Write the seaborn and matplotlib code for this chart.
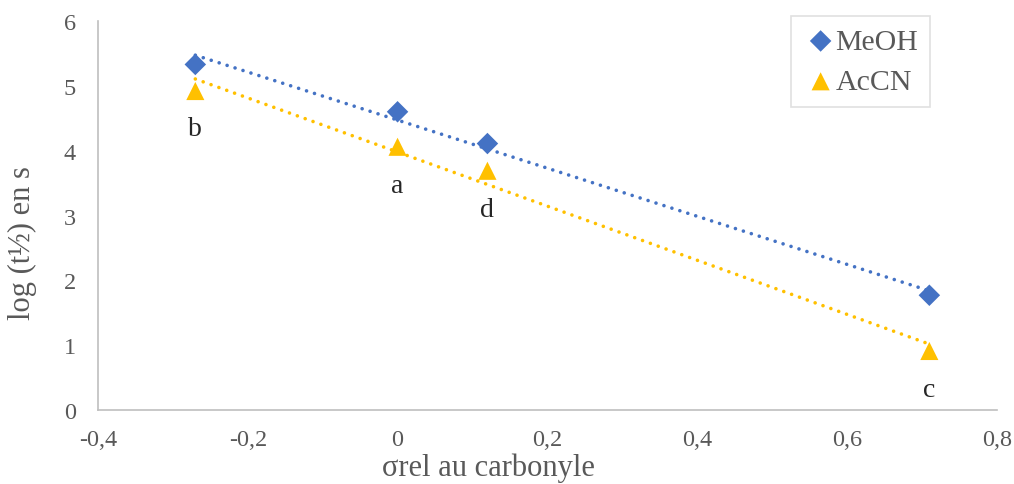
import numpy as np
import pandas as pd
import matplotlib
matplotlib.use("Agg")
import matplotlib.pyplot as plt
import seaborn as sns

# data
sigma = [-0.27, 0.0, 0.12, 0.71]
meoh = [5.33, 4.60, 4.11, 1.77]
accn = [4.92, 4.06, 3.69, 0.91]
point_labels = ["b", "a", "d", "c"]
label_y = [4.34, 3.47, 3.10, 0.31]

blue = "#4472C4"
gold = "#FFC000"
grey = "#595959"
axis_grey = "#BFBFBF"

sns.set_style("white")
plt.rcParams["font.family"] = ["Liberation Serif", "DejaVu Serif"]

fig = plt.figure(figsize=(10.14, 4.85), dpi=100)
ax = fig.add_axes([0.0966, 0.1526, 0.8864, 0.802])

sns.scatterplot(x=sigma, y=meoh, marker="D", s=120, color=blue, edgecolor="none",
                label="MeOH", ax=ax, zorder=3)
sns.scatterplot(x=sigma, y=accn, marker="^", s=170, color=gold, edgecolor="none",
                label="AcCN", ax=ax, zorder=3)

# linear trendlines (dotted)
for vals, col in [(meoh, blue), (accn, gold)]:
    sns.regplot(x=np.array(sigma), y=np.array(vals), ci=None, scatter=False,
                truncate=True, ax=ax,
                line_kws=dict(color=col, lw=2.6, ls=(0, (0.01, 2.3)),
                              dash_capstyle="round", zorder=4))

for xv, yv, t in zip(sigma, label_y, point_labels):
    ax.text(xv, yv, t, ha="center", va="center", fontsize=20, color="#262626")

xt = np.arange(-0.4, 0.81, 0.2)
ax.set_xlim(-0.4, 0.8)
ax.set_ylim(0, 6)
ax.set_xticks(xt)
ax.set_yticks(range(0, 7))
ax.set_xticklabels(["0" if abs(v) < 1e-9 else f"{v:.1f}".replace(".", ",") for v in xt])

for s in ["top", "right"]:
    ax.spines[s].set_visible(False)
for s in ["left", "bottom"]:
    ax.spines[s].set_color(axis_grey)
    ax.spines[s].set_linewidth(1.2)

ax.tick_params(axis="x", direction="inout", length=10, width=1.2, color=axis_grey,
               labelsize=17.5, labelcolor=grey, pad=9)
ax.tick_params(axis="y", direction="out", length=6, width=1.2, color=axis_grey,
               labelsize=17.5, labelcolor=grey, pad=10)

ax.set_xlabel("σrel au carbonyle", fontsize=22, color=grey)
ax.set_ylabel("log (t½) en s", fontsize=22, color=grey)
ax.xaxis.set_label_coords(0.435, -0.11)
ax.yaxis.set_label_coords(-0.068, 0.432)

leg = ax.legend(loc="upper right", bbox_to_anchor=(0.926, 1.013), borderaxespad=0,
                fontsize=21.5, frameon=True, fancybox=False, handletextpad=-0.1,
                handlelength=1.2, borderpad=0.4, labelspacing=0.45)
leg.get_frame().set_edgecolor("#D9D9D9")
leg.get_frame().set_linewidth(1.2)
for t in leg.get_texts():
    t.set_color(grey)

fig.savefig("out.png", dpi=100)
